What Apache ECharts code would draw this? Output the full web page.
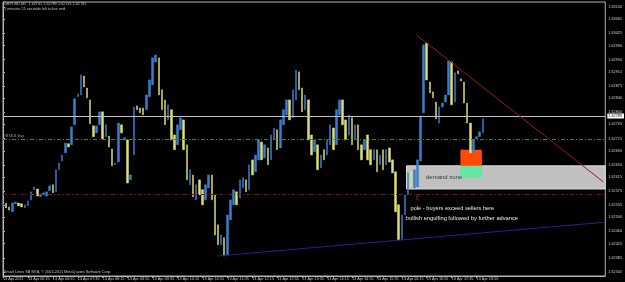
<!DOCTYPE html>
<html><head><meta charset="utf-8">
<script src="https://cdn.jsdelivr.net/npm/echarts@6/dist/echarts.min.js"></script>
<style>html,body{margin:0;padding:0;background:#000;}#c{width:625px;height:282px;}</style>
</head><body><div id="c"></div>
<script>
// Time axis tick labels (every 8 bars of M5)
const timeTickLabels = ['13 Apr 2011','13 Apr 06:15','13 Apr 06:55','13 Apr 07:35','13 Apr 08:15','13 Apr 08:55','13 Apr 09:35','13 Apr 10:15','13 Apr 10:55','13 Apr 11:35','13 Apr 12:15','13 Apr 12:55','13 Apr 13:35','13 Apr 14:15','13 Apr 14:55','13 Apr 15:35','13 Apr 16:15','13 Apr 16:55','13 Apr 17:35','13 Apr 18:15'];
const timeTickIndex = [0,8,16,24,32,40,48,56,64,72,80,88,96,104,112,120,128,136,144,152];
// Price axis tick labels
const priceTicks = ['1.63100','1.63065','1.63025','1.62990','1.62950','1.62915','1.62875','1.62840','1.62800','1.62765','1.62725','1.62690','1.62650','1.62615','1.62575','1.62535','1.62500','1.62460','1.62425','1.62385','1.62345'];

// Bar opens / closes (GBPUSD M5)
const opens = [
1.62530,1.62541,1.62530,1.62516,1.62539,1.62541,1.62539,1.62527,1.62533,1.62550,
1.62579,1.62581,1.62559,1.62564,1.62561,1.62576,1.62593,1.62573,1.62636,1.62661,
1.62684,1.62710,1.62707,1.62764,1.62844,1.62849,1.62903,1.62869,1.62835,1.62761,
1.62741,1.62764,1.62801,1.62730,1.62732,1.62695,1.62650,1.62658,1.62764,1.62721,
1.62721,1.62607,1.62678,1.62818,1.62812,1.62812,1.62807,1.62844,1.62878,1.62943,
1.62955,1.62864,1.62835,1.62778,1.62807,1.62735,1.62707,1.62750,1.62778,1.62707,
1.62593,1.62621,1.62550,1.62607,1.62579,1.62550,1.62584,1.62621,1.62564,1.62479,
1.62422,1.62442,1.62393,1.62493,1.62536,1.62573,1.62556,1.62584,1.62607,1.62579,
1.62664,1.62630,1.62664,1.62715,1.62670,1.62698,1.62664,1.62721,1.62750,1.62698,
1.62764,1.62792,1.62835,1.62784,1.62835,1.62915,1.62869,1.62807,1.62835,1.62735,
1.62687,1.62707,1.62641,1.62693,1.62678,1.62707,1.62755,1.62707,1.62792,1.62835,
1.62778,1.62735,1.62784,1.62721,1.62764,1.62707,1.62693,1.62735,1.62693,1.62664,
1.62693,1.62650,1.62693,1.62650,1.62698,1.62664,1.62630,1.62536,1.62436,1.62507,
1.62564,1.62630,1.62584,1.62587,1.62661,1.62798,1.62997,1.62886,1.62858,1.62829,
1.62769,1.62815,1.62829,1.62849,1.62943,1.62829,1.62918,1.62895,1.62886,1.62826,
1.62769,1.62684,1.62724,1.62730,1.62741];
const closes = [
1.62541,1.62527,1.62521,1.62541,1.62544,1.62533,1.62530,1.62536,1.62547,1.62573,
1.62587,1.62561,1.62567,1.62570,1.62573,1.62590,1.62570,1.62636,1.62655,1.62678,
1.62712,1.62701,1.62758,1.62838,1.62852,1.62906,1.62872,1.62841,1.62767,1.62730,
1.62761,1.62801,1.62724,1.62764,1.62701,1.62647,1.62655,1.62769,1.62741,1.62727,
1.62598,1.62621,1.62815,1.62807,1.62798,1.62792,1.62849,1.62892,1.62955,1.62963,
1.62849,1.62807,1.62764,1.62821,1.62721,1.62693,1.62764,1.62784,1.62693,1.62607,
1.62636,1.62559,1.62593,1.62564,1.62536,1.62593,1.62621,1.62550,1.62450,1.62422,
1.62450,1.62390,1.62507,1.62550,1.62579,1.62536,1.62607,1.62613,1.62573,1.62650,
1.62621,1.62678,1.62721,1.62664,1.62707,1.62650,1.62735,1.62755,1.62693,1.62778,
1.62807,1.62835,1.62778,1.62864,1.62920,1.62864,1.62801,1.62849,1.62721,1.62678,
1.62721,1.62636,1.62678,1.62664,1.62721,1.62764,1.62693,1.62807,1.62835,1.62764,
1.62721,1.62792,1.62707,1.62764,1.62693,1.62664,1.62721,1.62664,1.62650,1.62693,
1.62630,1.62678,1.62636,1.62693,1.62658,1.62627,1.62516,1.62436,1.62507,1.62564,
1.62627,1.62587,1.62636,1.62664,1.62789,1.62992,1.62892,1.62855,1.62841,1.62781,
1.62815,1.62826,1.62849,1.62946,1.62821,1.62912,1.62909,1.62889,1.62826,1.62769,
1.62684,1.62721,1.62730,1.62744,1.62781];

const currentPrice = 1.62789;
const orderLevel = 1.62724;
const redLevel = 1.62567;
const xStart = 0, xEnd = 193.3;
const supportLine = [[68.9, 1.62390], [192.7, 1.62486]];
const resistanceLine = [[132.7, 1.63020], [192.7, 1.62601]];
const demandZone = [[129.5, 1.62647], [193.3, 1.62581]];
const orangeBox = [[146.8, 1.62693], [153.7, 1.62647]];
const greenBox = [[146.8, 1.62647], [153.7, 1.62613]];

const candles = opens.map((o, i) => [i, o, closes[i], Math.min(o, closes[i]), Math.max(o, closes[i])]);
const BLUE = '#3a7ed2', YEL = '#dede74';
const FONT = 'Liberation Sans';

function hLine(price, style, label) {
  return [{coord: [xStart, price], lineStyle: style, label: label || {show: false}}, {coord: [xEnd, price]}];
}

const chart = echarts.init(document.getElementById('c'), null, {renderer: 'canvas'});
chart.setOption({
  backgroundColor: '#000',
  animation: false,
  grid: {left: 2, right: 17, top: 2, bottom: 6, show: true, borderColor: '#b4b4b4', borderWidth: 1, backgroundColor: '#000'},
  xAxis: {
    type: 'value', min: xStart, max: xEnd,
    axisLine: {show: true, lineStyle: {color: '#b4b4b4', width: 1}},
    splitLine: {show: false},
    axisTick: {show: true, customValues: timeTickIndex, length: 2, lineStyle: {color: '#b4b4b4'}},
    axisLabel: {
      customValues: timeTickIndex, color: '#c8c8c8', fontSize: 3.8, fontFamily: FONT, align: 'left', margin: 1,
      formatter: v => timeTickLabels[timeTickIndex.indexOf(Math.round(v))] || ''
    }
  },
  yAxis: {
    type: 'value', position: 'right', min: 1.62333, max: 1.63114,
    axisLine: {show: true, lineStyle: {color: '#b4b4b4', width: 1}},
    splitLine: {show: false},
    axisTick: {show: true, customValues: priceTicks.map(Number), length: 2, lineStyle: {color: '#b4b4b4'}},
    axisLabel: {customValues: priceTicks.map(Number), color: '#c8c8c8', fontSize: 3.8, fontFamily: FONT, margin: 3,
      formatter: v => v.toFixed(5)}
  },
  series: [{
    type: 'candlestick',
    data: candles,
    barWidth: 2,
    z: 3,
    itemStyle: {color: BLUE, color0: YEL, borderColor: BLUE, borderColor0: YEL, borderWidth: 0.5},
    markArea: {
      silent: true,
      z: 1,
      data: [
        [{coord: demandZone[0], itemStyle: {color: '#c0c0c0', borderColor: '#dcdcdc', borderWidth: 1},
          label: {show: true, position: 'insideLeft', distance: 20, formatter: 'demand zone', color: '#3a3a3a', fontSize: 6, fontFamily: FONT}},
         {coord: demandZone[1]}],
        [{coord: orangeBox[0], itemStyle: {color: '#ff4a08'}, label: {show: false}}, {coord: orangeBox[1]}],
        [{coord: greenBox[0], itemStyle: {color: '#66e6a6'}, label: {show: false}}, {coord: greenBox[1]}]
      ]
    },
    markLine: {
      silent: true, symbol: ['none', 'none'], animation: false,
      data: [
        hLine(currentPrice, {color: '#c0c0c0', type: 'solid', width: 1},
          {show: true, position: 'end', formatter: currentPrice.toFixed(5), backgroundColor: '#ffffff', color: '#000', fontSize: 3.8, fontFamily: FONT, padding: [1, 2, 0, 1], distance: 2}),
        hLine(orderLevel, {color: '#2f8a2f', type: [4, 2, 1, 2], width: 1},
          {show: true, position: 'insideStartTop', formatter: '#87401 buy', color: '#a0a0a0', fontSize: 3.8, fontFamily: FONT, distance: 1}),
        hLine(redLevel, {color: '#7a1616', type: [4, 2, 1, 2], width: 1}),
        [{coord: supportLine[0], lineStyle: {color: '#22229a', type: 'solid', width: 1}, label: {show: false}}, {coord: supportLine[1]}],
        [{coord: resistanceLine[0], lineStyle: {color: '#951e1e', type: 'solid', width: 1}, label: {show: false}}, {coord: resistanceLine[1]}]
      ]
    }
  }],
  graphic: [
    {type: 'text', left: 4, top: 2, style: {text: 'GBPUSD,M5  1.62741 1.62789 1.62741 1.62781', fill: '#c0c0c0', fontSize: 3.8, fontFamily: FONT}},
    {type: 'text', left: 4, top: 6.5, style: {text: '1 minutes 51 seconds left to bar end', fill: '#c0c0c0', fontSize: 3.8, fontFamily: FONT}},
    {type: 'text', left: 4, top: 269.5, style: {text: 'Smart Lines SB MTA, \u00a9 2001-2011 MetaQuotes Software Corp.', fill: '#c0c0c0', fontSize: 3.8, fontFamily: FONT}},
    {type: 'text', left: 414.5, top: 195, style: {text: '\u21e7', fill: '#e03030', fontSize: 7, fontFamily: 'DejaVu Sans'}},
    {type: 'text', left: 410.5, top: 205.5, style: {text: 'pole - buyers exceed sellers here', fill: '#ececec', fontSize: 5.7, fontFamily: FONT}},
    {type: 'text', left: 406, top: 215.5, style: {text: 'bullish engulfing followed by further advance', fill: '#ececec', fontSize: 5.7, fontFamily: FONT}}
  ]
});
</script></body></html>
